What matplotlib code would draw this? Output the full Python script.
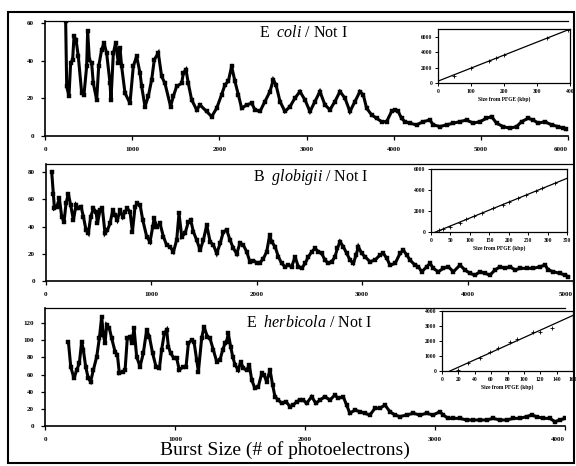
import numpy as np
import matplotlib
matplotlib.use("Agg")
import matplotlib.pyplot as plt
from matplotlib.patches import Rectangle

plt.rcParams['font.family'] = ['Liberation Serif', 'DejaVu Serif']
plt.rcParams['mathtext.fontset'] = 'custom'
plt.rcParams['mathtext.rm'] = 'Liberation Serif'
plt.rcParams['mathtext.it'] = 'Liberation Serif:italic'

# ---- E. coli / Not I burst-size histogram ----
ecoli_burst = [237, 249, 275, 294, 317, 333, 356, 382, 421, 447, 478, 489, 509, 535, 554, 593,
               616, 650, 677, 707, 746, 757, 784, 811, 841, 860, 879, 918, 975, 1013, 1051, 1090,
               1109, 1147, 1185, 1224, 1254, 1300, 1338, 1376, 1441, 1472, 1510, 1568, 1587, 1617,
               1644, 1682, 1740, 1778, 1854, 1912, 1969, 2026, 2065, 2103, 2141, 2179, 2218, 2256,
               2313, 2371, 2409, 2466, 2523, 2581, 2619, 2650, 2696, 2753, 2810, 2868, 2925, 2982,
               3040, 3097, 3154, 3212, 3269, 3326, 3384, 3441, 3498, 3556, 3613, 3651, 3690, 3747,
               3804, 3862, 3919, 3976, 4014, 4052, 4090, 4129, 4186, 4262, 4339, 4415, 4454, 4530,
               4607, 4683, 4759, 4836, 4912, 4989, 5065, 5123, 5180, 5256, 5333, 5410, 5467, 5543,
               5601, 5658, 5734, 5811, 5887, 5945, 5975]
ecoli_count = [61, 26.3, 21, 38.7, 40.5, 53, 51, 42.3, 22.7, 21.9, 37, 55.6, 40.5, 38.7, 28, 19.2,
               37, 45.8, 49.4, 44, 28, 19.2, 44, 49.4, 38.7, 46.7, 37, 22.7, 17.4, 37, 42.3, 33.4,
               26.3, 15.6, 21, 29.9, 40.5, 44, 31.6, 28, 15.6, 21, 26.3, 28, 33.4, 35.2,
               28, 19.2, 13.9, 16.5, 13, 10.3, 14.7, 21.9, 27.2, 29, 37, 29, 21.9, 14.7,
               16.5, 17.4, 13.9, 13, 18.3, 23.6, 29.8, 27.2, 18.3, 13, 15.6, 20.1, 23.6, 19.2,
               13, 18.3, 23.6, 16.5, 13.9, 18.3, 23.6, 20.1, 13, 18.3, 23.6, 21.9, 14.7, 11.2,
               9.4, 7.6, 7.6, 13, 13.9, 13, 9.4, 7.6, 6.8, 5.9, 7.6, 8.5, 5.9, 5,
               5.9, 6.8, 7.6, 8.5, 6.8, 7.6, 9.4, 10.3, 6.8, 5, 4.1, 5, 7.6, 9.4,
               8.5, 6.8, 7.6, 5.9, 5, 4.1, 3.5]

# ---- B. globigii / Not I ----
bglob_burst = [54, 70, 80, 102, 127, 149, 171, 190, 212, 234, 260, 285, 307, 333, 355, 380, 402,
               424, 450, 475, 488, 513, 535, 560, 582, 608, 633, 655, 677, 703, 728, 750, 772, 797,
               820, 845, 867, 893, 918, 956, 987, 1013, 1025, 1050, 1082, 1114, 1145, 1177, 1209,
               1240, 1262, 1288, 1319, 1351, 1373, 1398, 1430, 1462, 1493, 1525, 1557, 1588, 1620,
               1652, 1683, 1715, 1746, 1778, 1810, 1840, 1872, 1904, 1936, 1967, 1999, 2031, 2062,
               2094, 2122, 2141, 2173, 2205, 2236, 2268, 2300, 2331, 2363, 2394, 2426, 2458, 2489,
               2521, 2553, 2584, 2616, 2647, 2679, 2711, 2742, 2764, 2790, 2821, 2853, 2885, 2916,
               2942, 2964, 2995, 3027, 3074, 3122, 3169, 3201, 3233, 3264, 3312, 3359, 3391, 3422,
               3454, 3501, 3533, 3565, 3612, 3644, 3675, 3722, 3770, 3817, 3865, 3928, 3975, 4023,
               4070, 4118, 4165, 4213, 4260, 4308, 4355, 4403, 4450, 4497, 4561, 4624, 4687, 4735,
               4766, 4814, 4877, 4924, 4956]
bglob_count = [80.3, 64.3, 53.3, 54.6, 60.7, 47.2, 43.5, 57, 64.3, 55.8, 44.8, 55.8, 53.3, 54.6,
               47.2, 37.4, 35, 47.2, 53.3, 50.9, 42.3, 52.1, 53.3, 35, 37.4, 42.3, 52.1, 48.4, 44.8,
               52.1, 47.2, 50.9, 53.3, 50.9, 36.2, 54.6, 57, 55.8, 44.8, 32.5, 28.9, 39.9, 46, 39.9,
               42.3, 32.5, 26.4, 25.2, 21.5, 30.1, 49.7, 32.5, 35, 43.5, 44.8, 36.2, 30.1, 22.7,
               30.1, 41.1, 28.9, 26.4, 20.3, 27.6, 36.2, 37.4, 30.1, 24, 20, 28, 26.4, 21.5, 14, 15,
               13.5, 13.5, 16.5, 21.5, 33.7, 28.9, 25.2, 17.8, 12.9, 10.5, 11.7, 10.5, 17.8, 10.5,
               9.3, 12.9, 17.8, 21.5, 24, 21.5, 20.3, 15.4, 12.9, 14.2, 17.8, 24, 28.9, 25.2, 20.3,
               15.4, 12.9, 19.1, 25.2, 20.3, 17.8, 14.2, 15.4, 19.1, 20.3, 16.6, 11.7, 12.9, 20.3,
               22.7, 19.1, 15.4, 11.7, 10.5, 6.8, 10.5, 13, 9.3, 6.8, 9.3, 10.5, 6.8, 11.7, 8.1,
               5.6, 4.4, 6.8, 5.6, 4.4, 8.1, 10.5, 9.3, 10.5, 8.1, 9.3, 9.3, 9.3, 10.5, 11.7, 8.1,
               6.8, 5.6, 4.4, 3.2]

# ---- E. herbicola / Not I ----
eherb_burst = [180, 198, 223, 244, 264, 282, 295, 313, 333, 351, 372, 398, 418, 436, 449, 462, 474,
               495, 513, 539, 557, 572, 598, 616, 633, 654, 667, 685, 705, 731, 756, 782, 803, 828,
               854, 880, 897, 918, 936, 949, 967, 992, 1013, 1033, 1064, 1085, 1103, 1128, 1146,
               1167, 1180, 1205, 1223, 1249, 1269, 1295, 1321, 1346, 1367, 1385, 1397, 1410, 1428,
               1444, 1462, 1487, 1505, 1526, 1551, 1572, 1590, 1615, 1641, 1667, 1685, 1705, 1731,
               1751, 1769, 1795, 1821, 1854, 1885, 1910, 1936, 1962, 1986, 2012, 2051, 2084, 2115,
               2153, 2192, 2230, 2256, 2294, 2320, 2345, 2384, 2422, 2461, 2499, 2538, 2576, 2615,
               2653, 2692, 2730, 2781, 2833, 2884, 2935, 2986, 3038, 3063, 3102, 3140, 3192, 3243,
               3294, 3345, 3397, 3448, 3499, 3550, 3602, 3653, 3704, 3743, 3781, 3832, 3884, 3922,
               3961, 3999]
eherb_count = [98.3, 69.1, 55.5, 65.3, 73, 98.3, 88.6, 69.1, 55.5, 51.7, 65.3, 80.8, 102.2, 127.4,
               106, 96.3, 117.7, 113.8, 102.2, 86.6, 82.7, 61.4, 63.3, 65.3, 102.2, 104.1, 96.3,
               113.8, 80.8, 69.1, 84.7, 111.9, 104.1, 84.7, 69.1, 67.2, 88.6, 108, 111.9, 92.5,
               84.7, 78.9, 78.9, 65.3, 69.1, 69.1, 96.3, 100.2, 98.3, 76.9, 63.3, 102.2, 115.8,
               104.1, 102.2, 88.6, 75, 77, 88.6, 96.3, 98.3, 108, 92.5, 80.8, 71.1, 65.3, 75, 67.2,
               65.3, 71.1, 53.6, 43.9, 45.8, 61.4, 59.4, 51.7, 65.3, 47.8, 34.2, 30.3, 26.4, 28.4,
               22.5, 24.5, 28.4, 30.3, 30.3, 26.4, 34.2, 26.4, 30.3, 34.2, 30.3, 36.1, 32.2, 34.2,
               24.5, 14.8, 18.6, 16.7, 14.8, 12.8, 20.6, 20.6, 24.5, 16.7, 12.8, 10.9, 12.8, 14.8,
               12.8, 14.8, 12.8, 16.7, 12.8, 8.9, 8.9, 8.9, 7, 7, 7, 7, 8.9, 7, 7, 8.9, 8.9, 10.9,
               12.8, 10.9, 8.9, 8.9, 5, 7, 8.9]

# ---- calibration insets: fragment size (kbp) vs burst size ----
ecoli_pfge = [48, 100, 155, 175, 200, 330, 395]
ecoli_peak = [900, 2000, 2900, 3300, 3600, 5800, 6850]
bglob_pfge = [20, 30, 50, 75, 90, 110, 130, 160, 185, 200, 225, 245, 270, 285, 320]
bglob_peak = [150, 300, 500, 900, 1200, 1500, 1800, 2300, 2600, 2850, 3200, 3500, 3900, 4150, 4650]
eherb_pfge = [20, 32, 46, 59, 69, 83, 91, 111, 120, 134]
eherb_peak = [100, 530, 870, 1290, 1510, 1950, 2110, 2620, 2600, 2890]

titles = [r"E  $\it{coli}$ / Not I", r"B  $\it{globigii}$ / Not I", r"E  $\it{herbicola}$ / Not I"]
inset_xlabel = "Size from PFGE (kbp)"
xlabel = "Burst Size (# of photoelectrons)"

W, H = 576, 466
fig = plt.figure(figsize=(W / 100, H / 100), dpi=100)


def px_rect(x0, y0, x1, y1):
    return [x0 / W, 1 - y1 / H, (x1 - x0) / W, (y1 - y0) / H]


tick_font = dict(family='Liberation Serif', weight='bold', size=5)
small = dict(family='Liberation Serif', weight='bold', size=4)

panels = [
    dict(rect=px_rect(45, 21, 568, 136), x=ecoli_burst, y=ecoli_count, xlim=(0, 6000), ylim=(0, 61),
         xt=np.arange(0, 6001, 1000), yt=np.arange(0, 61, 20), title_xy=(303, 33),
         inset=px_rect(438, 29, 570, 83), ix=ecoli_pfge, iy=ecoli_peak, ixlim=(0, 400), iylim=(0, 7000),
         ixt=np.arange(0, 401, 100), iyt=np.arange(0, 6001, 2000)),
    dict(rect=px_rect(46, 164, 573, 281), x=bglob_burst, y=bglob_count, xlim=(0, 5000), ylim=(0, 86),
         xt=np.arange(0, 5001, 1000), yt=np.arange(0, 81, 20), title_xy=(311, 177),
         inset=px_rect(431, 169, 567, 232), ix=bglob_pfge, iy=bglob_peak, ixlim=(0, 350), iylim=(0, 6000),
         ixt=np.arange(0, 351, 50), iyt=np.arange(0, 6001, 2000)),
    dict(rect=px_rect(45, 308, 565, 426), x=eherb_burst, y=eherb_count, xlim=(0, 4000), ylim=(0, 137.5),
         xt=np.arange(0, 4001, 1000), yt=np.arange(0, 121, 20), title_xy=(309, 323),
         inset=px_rect(442, 311, 573, 371), ix=eherb_pfge, iy=eherb_peak, ixlim=(0, 160), iylim=(0, 4000),
         ixt=np.arange(0, 161, 20), iyt=np.arange(0, 4001, 1000)),
]

for i, p in enumerate(panels):
    ax = fig.add_axes(p['rect'])
    ax.plot(p['x'], p['y'], color='black', lw=2.2, solid_joinstyle='miter',
            marker='s', ms=2.2, mfc='black', mec='black', mew=0.3)
    ax.set_xlim(*p['xlim'])
    ax.set_ylim(*p['ylim'])
    ax.set_xticks(p['xt'])
    ax.set_yticks(p['yt'])
    ax.set_xticklabels([str(v) for v in p['xt']], fontdict=tick_font)
    ax.set_yticklabels([str(v) for v in p['yt']], fontdict=tick_font)
    # keep the rightmost tick label inside the outer frame
    ax.get_xticklabels()[-1].set_horizontalalignment('right')
    ax.tick_params(direction='out', length=3, width=0.9, pad=5, colors='black')
    for s in ['left', 'bottom']:
        ax.spines[s].set_linewidth(1.2)
    ax.spines['top'].set_linewidth(0.9)
    ax.spines['right'].set_visible(False)
    fig.text(p['title_xy'][0] / W, 1 - p['title_xy'][1] / H, titles[i], ha='center', va='center',
             fontsize=11.5)

    ia = fig.add_axes(p['inset'])
    ia.plot(p['ix'], p['iy'], ls='none', marker='+', ms=2.5, mew=0.6, color='black')
    slope, icpt = np.polyfit(p['ix'], p['iy'], 1)
    xx = np.array(p['ixlim'], dtype=float)
    ia.plot(xx, slope * xx + icpt, color='black', lw=0.9)
    ia.set_xlim(*p['ixlim'])
    ia.set_ylim(*p['iylim'])
    ia.set_xticks(p['ixt'])
    ia.set_yticks(p['iyt'])
    ia.set_xticklabels([str(v) for v in p['ixt']], fontdict=small)
    ia.set_yticklabels([str(v) for v in p['iyt']], fontdict=small)
    ia.tick_params(direction='out', length=2, width=0.7, pad=2)
    for s in ia.spines.values():
        s.set_linewidth(0.9)
    ia.set_xlabel(inset_xlabel, fontdict=small, labelpad=2)

fig.text(285 / W, 1 - 450 / H, xlabel, ha='center', va='center', fontsize=14)

# outer frame
fig.add_artist(Rectangle((8 / W, 1 - 463 / H), 566 / W, 451 / H, transform=fig.transFigure,
                         fill=False, lw=1.5, color='black'))

fig.savefig('out.png', dpi=100)
